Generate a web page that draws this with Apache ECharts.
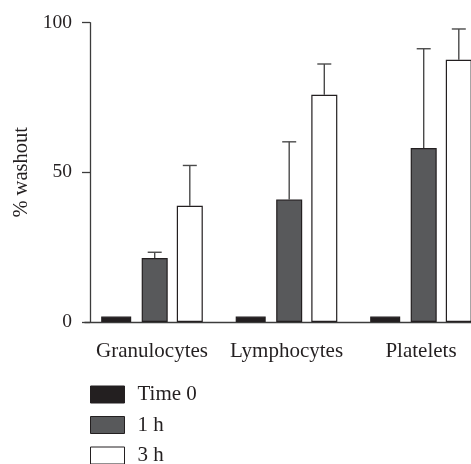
<!DOCTYPE html>
<html>
<head>
<meta charset="utf-8">
<script src="https://cdn.jsdelivr.net/npm/echarts@6/dist/echarts.min.js"></script>
<style>html,body{margin:0;padding:0;background:#fff}#c{width:471px;height:464px}</style>
</head>
<body>
<div id="c"></div>
<script>
const categories = ['Granulocytes', 'Lymphocytes', 'Platelets'];
const seriesNames = ['Time 0', '1 h', '3 h'];
const time0 = [1.8, 1.8, 1.8];
const h1 = [21.4, 40.9, 58.1];
const h3 = [38.8, 75.9, 87.6];
const time0Err = [0, 0, 0];
const h1Err = [23.3, 60.2, 91.3];
const h3Err = [52.3, 86.2, 97.9];
const yTicks = [0, 50, 100];

const ink = '#231f20';
const axisCol = '#3c3c3c';
const fills = [ink, '#58595b', '#ffffff'];
const barWidths = [30, 26, 26];
const barGap = 0.35;
const font = '"Liberation Serif", "DejaVu Serif", serif';
const fs = 21;
const fsNum = 19.5;

const values = [time0, h1, h3];
const errs = [time0Err, h1Err, h3Err];

// same offset arithmetic ECharts uses for side-by-side bars
let sum = 0;
barWidths.forEach(w => sum += w * (1 + barGap));
sum -= barWidths[barWidths.length - 1] * barGap;
const offsets = [];
let off = -sum / 2;
barWidths.forEach(w => { offsets.push(off + w / 2); off += w * (1 + barGap); });

const chart = echarts.init(document.getElementById('c'), null, {renderer: 'canvas'});

const barSeries = seriesNames.map((n, i) => ({
  name: n,
  type: 'bar',
  data: values[i],
  barWidth: barWidths[i],
  barGap: (barGap * 100) + '%',
  itemStyle: {color: fills[i], borderColor: ink, borderWidth: 1.2},
  silent: true
}));

const errSeries = seriesNames.map((n, i) => ({
  name: n + ' err',
  type: 'custom',
  silent: true,
  z: 1,
  data: categories.map((c, j) => [j, values[i][j], errs[i][j]]),
  renderItem: function (params, api) {
    const v = api.value(1), e = api.value(2);
    if (!(e > v)) return null;
    const p0 = api.coord([api.value(0), v]);
    const p1 = api.coord([api.value(0), e]);
    const x = p0[0] + offsets[i];
    const cap = 7;
    return {
      type: 'group',
      children: [
        {type: 'line', shape: {x1: x, y1: p0[1], x2: x, y2: p1[1]}, style: {stroke: '#4a4a4a', lineWidth: 1.4}},
        {type: 'line', shape: {x1: x - cap, y1: p1[1], x2: x + cap, y2: p1[1]}, style: {stroke: '#4a4a4a', lineWidth: 1.4}}
      ]
    };
  }
}));

chart.setOption({
  animation: false,
  backgroundColor: '#fff',
  textStyle: {fontFamily: font, color: ink},
  grid: {left: 84.75, top: 22.7, width: 403.5, bottom: 142, outerBoundsMode: 'none', containLabel: false},
  legend: {
    data: seriesNames,
    orient: 'vertical',
    left: 90,
    top: 384,
    height: 120,
    padding: 0,
    itemWidth: 34,
    itemHeight: 17,
    itemGap: 9.5,
    icon: 'rect',
    selectedMode: false,
    textStyle: {fontFamily: font, fontSize: fs, color: ink, padding: [0, 0, 0, 8]},
    itemStyle: {borderColor: ink, borderWidth: 1}
  },
  xAxis: {
    type: 'category',
    data: categories,
    axisLine: {lineStyle: {color: axisCol, width: 1.3}},
    axisTick: {alignWithLabel: true, length: 9, lineStyle: {color: axisCol, width: 1.3}},
    axisLabel: {fontFamily: font, fontSize: fs, color: ink, margin: 19, interval: 0},
    splitLine: {show: false}
  },
  yAxis: {
    type: 'value',
    min: yTicks[0],
    max: yTicks[yTicks.length - 1],
    interval: yTicks[1] - yTicks[0],
    offset: -5.25,
    name: '% washout',
    nameLocation: 'middle',
    nameGap: 57,
    nameTextStyle: {fontFamily: font, fontSize: 20.5, color: ink},
    axisLine: {show: true, lineStyle: {color: axisCol, width: 1.3}},
    axisTick: {show: true, length: 8, lineStyle: {color: axisCol, width: 1.3}},
    axisLabel: {fontFamily: font, fontSize: fsNum, color: ink, margin: 18},
    splitLine: {show: false}
  },
  series: barSeries.concat(errSeries)
});
</script>
</body>
</html>
